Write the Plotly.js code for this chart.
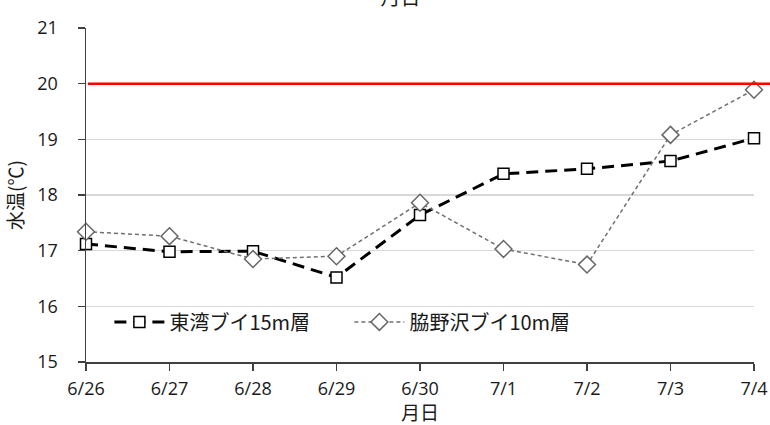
<!DOCTYPE html>
<html>
<head>
<meta charset="utf-8">
<script src="https://cdn.plot.ly/plotly-3.0.1.min.js"></script>
<style>html,body{margin:0;padding:0;background:#fff;}#chart{width:770px;height:425px;}</style>
</head>
<body>
<div id="chart"></div>
<script>
const dates = ['6/26','6/27','6/28','6/29','6/30','7/1','7/2','7/3','7/4'];
const higashiwan15m = [17.12, 16.98, 16.99, 16.52, 17.64, 18.38, 18.47, 18.61, 19.02];
const wakinosawa10m = [17.34, 17.26, 16.85, 16.90, 17.86, 17.03, 16.75, 19.08, 19.89];
const seriesNames = ['東湾ブイ15m層', '脇野沢ブイ10m層'];
const referenceTemp = 20;
const yTicks = [15, 16, 17, 18, 19, 20, 21];

const font = '"Noto Sans CJK JP", "Noto Sans", sans-serif';
const numFont = '"Open Sans", "Noto Sans", sans-serif';
const txt = '#1a1a1a';

const traces = [
  {
    x: dates, y: higashiwan15m, name: seriesNames[0], type: 'scatter', mode: 'lines+markers',
    line: {color: '#000000', width: 3, dash: '12px,7px'},
    marker: {symbol: 'square', size: 11, color: '#ffffff', line: {color: '#000000', width: 1.5}},
    cliponaxis: false
  },
  {
    x: dates, y: wakinosawa10m, name: seriesNames[1], type: 'scatter', mode: 'lines+markers',
    line: {color: '#707070', width: 1.5, dash: '4px,3px'},
    marker: {symbol: 'diamond', size: 13, color: '#ffffff', line: {color: '#666666', width: 1.5}},
    cliponaxis: false
  }
];

const layout = {
  width: 770, height: 425,
  margin: {l: 86, r: 16, t: 28, b: 63},
  paper_bgcolor: '#ffffff', plot_bgcolor: '#ffffff',
  font: {family: font, color: txt, size: 17},
  title: {text: '月日', font: {family: font, size: 20, color: txt}, x: 0.52, xanchor: 'center', y: 0.988, yref: 'container', yanchor: 'bottom'},
  showlegend: true,
  legend: {orientation: 'h', x: 0.035, y: 0.12, xanchor: 'left', yanchor: 'middle', bgcolor: 'rgba(0,0,0,0)',
           itemwidth: 50,
           font: {family: font, size: 20, color: txt}, entrywidth: 175, entrywidthmode: 'pixels'},
  xaxis: {
    type: 'category', range: [0, dates.length - 1],
    showline: true, linecolor: '#404040', linewidth: 1.5,
    ticks: 'outside', ticklen: 7, tickcolor: '#404040', tickwidth: 1.5,
    showgrid: false, zeroline: false, ticklabelstandoff: 3,
    tickfont: {family: numFont, size: 18, color: txt},
    title: {text: '月日', font: {family: font, size: 19, color: txt}, standoff: 4}
  },
  yaxis: {
    range: [15, 21], tickvals: yTicks,
    showline: true, linecolor: '#404040', linewidth: 1.5,
    ticks: 'outside', ticklen: 7, tickcolor: '#404040', tickwidth: 1.5,
    showgrid: true, gridcolor: '#d9d9d9', gridwidth: 1.5, zeroline: false,
    ticklabelstandoff: 16,
    tickfont: {family: numFont, size: 18, color: txt},
    title: {text: '水温(℃)', font: {family: font, size: 19, color: txt}, standoff: 8}
  },
  shapes: [
    {type: 'line', xref: 'paper', yref: 'y', x0: 0.003, x1: 1.03, y0: referenceTemp, y1: referenceTemp,
     line: {color: '#ff0000', width: 2.5}, layer: 'above'}
  ]
};

Plotly.newPlot('chart', traces, layout, {displayModeBar: false, staticPlot: true});
</script>
</body>
</html>
